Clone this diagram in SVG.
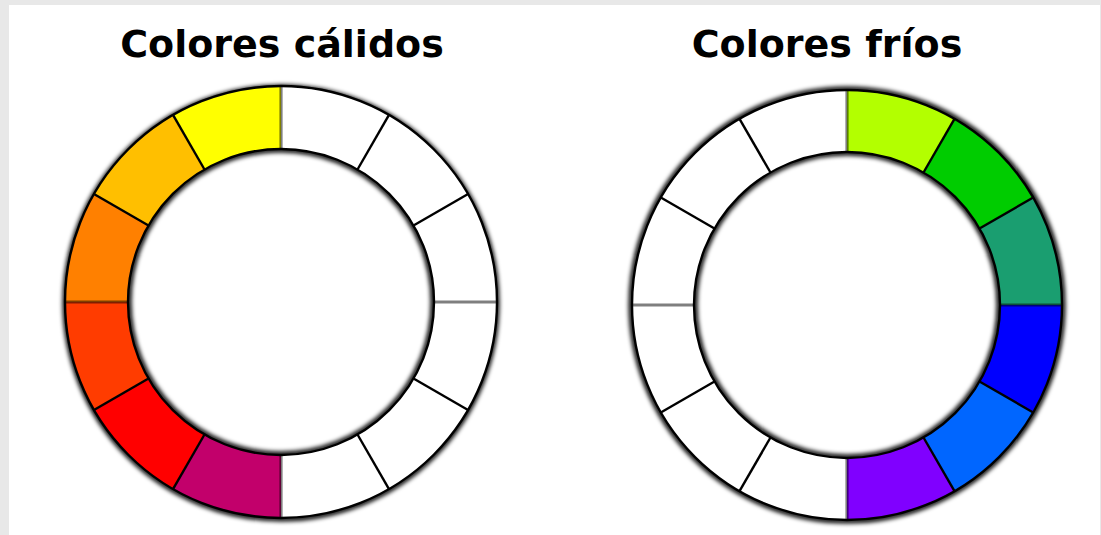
<svg xmlns="http://www.w3.org/2000/svg" width="1101" height="535" viewBox="0 0 1101 535">
<defs>
<style>
.title{font-family:"DejaVu Sans",Verdana,sans-serif;font-weight:bold;font-size:38px;fill:#000;text-anchor:middle}
.ring{stroke:none}
.edge{fill:none;stroke:#000;stroke-width:2.4}
.div{stroke:#000;stroke-width:2.4}
.quad{stroke:#000;stroke-opacity:0.5;stroke-width:3.2}
.shadow{fill:none;stroke:#000;stroke-width:5;filter:url(#blur)}
</style>
<filter id="blur" x="-10%" y="-10%" width="120%" height="120%"><feGaussianBlur stdDeviation="2.2"/></filter>
</defs>
<rect x="0" y="0" width="1101" height="535" fill="#ffffff"/>
<rect x="0" y="0" width="1101" height="5" fill="#e8e8e8"/>
<rect x="0" y="0" width="9" height="535" fill="#e8e8e8"/>
<rect x="1100" y="0" width="1" height="535" fill="#e8e8e8"/>

<text class="title" x="282" y="57">Colores cálidos</text>
<text class="title" x="827" y="57">Colores fríos</text>

<g id="warm-wheel">
<circle class="shadow" cx="281" cy="303" r="216"/>
<circle class="shadow" cx="281" cy="302" r="152"/>
<path class="ring" fill="#ffffff" fill-rule="evenodd" d="M281,86 A216,216 0 1 1 281,518 A216,216 0 1 1 281,86 Z M281,149 A153,153 0 1 0 281,455 A153,153 0 1 0 281,149 Z"/>
<path fill="#c2006b" d="M281,518 A216,216 0 0 1 173,489.06 L204.5,434.5 A153,153 0 0 0 281,455 Z"/>
<path fill="#ff0000" d="M173,489.06 A216,216 0 0 1 93.94,410 L148.5,378.5 A153,153 0 0 0 204.5,434.5 Z"/>
<path fill="#ff3c00" d="M93.94,410 A216,216 0 0 1 65,302 L128,302 A153,153 0 0 0 148.5,378.5 Z"/>
<path fill="#ff8000" d="M65,302 A216,216 0 0 1 93.94,194 L148.5,225.5 A153,153 0 0 0 128,302 Z"/>
<path fill="#ffbf00" d="M93.94,194 A216,216 0 0 1 173,114.94 L204.5,169.5 A153,153 0 0 0 148.5,225.5 Z"/>
<path fill="#ffff00" d="M173,114.94 A216,216 0 0 1 281,86 L281,149 A153,153 0 0 0 204.5,169.5 Z"/>
<line class="quad" x1="281" y1="86" x2="281" y2="149"/>
<line class="quad" x1="497" y1="302" x2="434" y2="302"/>
<line class="quad" x1="281" y1="518" x2="281" y2="455"/>
<line class="quad" x1="65" y1="302" x2="128" y2="302"/>
<line class="div" x1="389" y1="114.94" x2="357.5" y2="169.5"/>
<line class="div" x1="468.06" y1="194" x2="413.5" y2="225.5"/>
<line class="div" x1="468.06" y1="410" x2="413.5" y2="378.5"/>
<line class="div" x1="389" y1="489.06" x2="357.5" y2="434.5"/>
<line class="div" x1="173" y1="489.06" x2="204.5" y2="434.5"/>
<line class="div" x1="93.94" y1="410" x2="148.5" y2="378.5"/>
<line class="div" x1="93.94" y1="194" x2="148.5" y2="225.5"/>
<line class="div" x1="173" y1="114.94" x2="204.5" y2="169.5"/>
<circle class="edge" cx="281" cy="302" r="216"/>
<circle class="edge" cx="281" cy="302" r="153"/>
</g>

<g id="cool-wheel">
<circle class="shadow" cx="847" cy="305" r="216"/>
<circle class="shadow" cx="847" cy="305" r="152"/>
<path class="ring" fill="#ffffff" fill-rule="evenodd" d="M847,90 A215,215 0 1 1 847,520 A215,215 0 1 1 847,90 Z M847,152 A153,153 0 1 0 847,458 A153,153 0 1 0 847,152 Z"/>
<path fill="#b3ff00" d="M847,90 A215,215 0 0 1 954.5,118.8 L923.5,172.5 A153,153 0 0 0 847,152 Z"/>
<path fill="#00cc00" d="M954.5,118.8 A215,215 0 0 1 1033.2,197.5 L979.5,228.5 A153,153 0 0 0 923.5,172.5 Z"/>
<path fill="#1a9e70" d="M1033.2,197.5 A215,215 0 0 1 1062,305 L1000,305 A153,153 0 0 0 979.5,228.5 Z"/>
<path fill="#0000ff" d="M1062,305 A215,215 0 0 1 1033.2,412.5 L979.5,381.5 A153,153 0 0 0 1000,305 Z"/>
<path fill="#0066ff" d="M1033.2,412.5 A215,215 0 0 1 954.5,491.2 L923.5,437.5 A153,153 0 0 0 979.5,381.5 Z"/>
<path fill="#8000ff" d="M954.5,491.2 A215,215 0 0 1 847,520 L847,458 A153,153 0 0 0 923.5,437.5 Z"/>
<line class="quad" x1="847" y1="90" x2="847" y2="152"/>
<line class="quad" x1="1062" y1="305" x2="1000" y2="305"/>
<line class="quad" x1="847" y1="520" x2="847" y2="458"/>
<line class="quad" x1="632" y1="305" x2="694" y2="305"/>
<line class="div" x1="954.5" y1="118.8" x2="923.5" y2="172.5"/>
<line class="div" x1="1033.2" y1="197.5" x2="979.5" y2="228.5"/>
<line class="div" x1="1033.2" y1="412.5" x2="979.5" y2="381.5"/>
<line class="div" x1="954.5" y1="491.2" x2="923.5" y2="437.5"/>
<line class="div" x1="739.5" y1="491.2" x2="770.5" y2="437.5"/>
<line class="div" x1="660.8" y1="412.5" x2="714.5" y2="381.5"/>
<line class="div" x1="660.8" y1="197.5" x2="714.5" y2="228.5"/>
<line class="div" x1="739.5" y1="118.8" x2="770.5" y2="172.5"/>
<circle class="edge" cx="847" cy="305" r="215"/>
<circle class="edge" cx="847" cy="305" r="153"/>
</g>
</svg>
